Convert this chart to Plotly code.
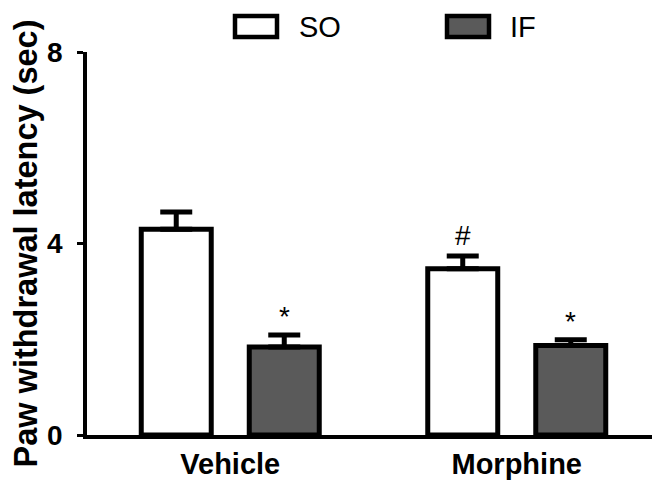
import plotly.graph_objects as go

categories = ["Vehicle", "Morphine"]
series_names = ["SO", "IF"]
so_values = [4.30, 3.47]
so_sem = [0.36, 0.27]
if_values = [1.84, 1.87]
if_sem = [0.25, 0.12]
marks_so = ["", "#"]
marks_if = ["*", "*"]
y_ticks = [0, 4, 8]

BLACK = "#000000"
GRAY = "#5a5a5a"
FONT = "Liberation Sans, Arial, sans-serif"

# The page body has an 8px margin; the figure is sized to fit the window.
OFF = 8
FW, FH = 660 - OFF, 486 - OFF
L, T, R = 87 - OFF, 52 - OFF, 0
B = FH - (435 - OFF)
W, H = float(FW - L - R), float(FH - T - B)

def px_x(p):
    return (p - OFF - L) / W

def px_y(p):
    return (FH - B - (p - OFF)) / H

BAR_LINE = 5
fig = go.Figure()
fig.add_trace(go.Bar(
    x=categories, y=so_values, name=series_names[0],
    marker=dict(color="white", line=dict(color=BLACK, width=BAR_LINE)),
    error_y=dict(type="data", array=so_sem, arrayminus=[0, 0], color=BLACK,
                 thickness=5, width=16),
    showlegend=False,
))
fig.add_trace(go.Bar(
    x=categories, y=if_values, name=series_names[1],
    marker=dict(color=GRAY, line=dict(color=BLACK, width=BAR_LINE)),
    error_y=dict(type="data", array=if_sem, arrayminus=[0, 0], color=BLACK,
                 thickness=5, width=16),
    showlegend=False,
))

SHIFT = 54
annotations = []
for i, c in enumerate(categories):
    if marks_so[i]:
        annotations.append(dict(x=c, y=so_values[i] + so_sem[i], xref="x", yref="y",
                                text=marks_so[i], showarrow=False, xshift=-SHIFT,
                                yanchor="bottom", yshift=3,
                                font=dict(family=FONT, size=28, color=BLACK)))
    if marks_if[i]:
        annotations.append(dict(x=c, y=if_values[i] + if_sem[i], xref="x", yref="y",
                                text=marks_if[i], showarrow=False, xshift=SHIFT,
                                yanchor="bottom", yshift=1,
                                font=dict(family=FONT, size=28, color=BLACK)))

shapes = [
    dict(type="rect", xref="paper", yref="paper",
         x0=px_x(235), x1=px_x(277), y0=px_y(37), y1=px_y(16),
         fillcolor="white", line=dict(color=BLACK, width=4.5)),
    dict(type="rect", xref="paper", yref="paper",
         x0=px_x(447), x1=px_x(489), y0=px_y(37), y1=px_y(16),
         fillcolor=GRAY, line=dict(color=BLACK, width=4.5)),
]
annotations.append(dict(x=px_x(297), y=px_y(27), xref="paper", yref="paper",
                        text=series_names[0], showarrow=False, xanchor="left",
                        yanchor="middle", font=dict(family=FONT, size=29, color=BLACK)))
annotations.append(dict(x=px_x(508), y=px_y(27), xref="paper", yref="paper",
                        text=series_names[1], showarrow=False, xanchor="left",
                        yanchor="middle", font=dict(family=FONT, size=29, color=BLACK)))

fig.update_layout(
    width=FW, height=FH,
    margin=dict(l=L, r=R, t=T, b=B, autoexpand=False),
    plot_bgcolor="white", paper_bgcolor="white",
    barmode="group", bargap=0.246, bargroupgap=0.352,
    shapes=shapes, annotations=annotations,
    font=dict(family=FONT, color=BLACK),
)
fig.update_xaxes(
    showline=True, linecolor=BLACK, linewidth=3.5, ticks="", showgrid=False,
    range=[-0.5, 1.5], automargin=False,
    tickfont=dict(family=FONT, size=29, color=BLACK, weight="bold"),
)
fig.update_yaxes(
    range=[0, 8], tickvals=y_ticks, ticktext=[str(v) for v in y_ticks],
    showline=True, linecolor=BLACK, linewidth=3.5, ticks="outside", ticklen=6,
    tickwidth=3, tickcolor=BLACK, showgrid=False, zeroline=False, automargin=False,
    ticklabelstandoff=9,
    tickfont=dict(family=FONT, size=28, color=BLACK, weight="bold"),
    title=dict(text="Paw withdrawal latency (sec)", standoff=12,
               font=dict(family=FONT, size=32.5, color=BLACK, weight="bold")),
)

fig.write_html("out.html")
